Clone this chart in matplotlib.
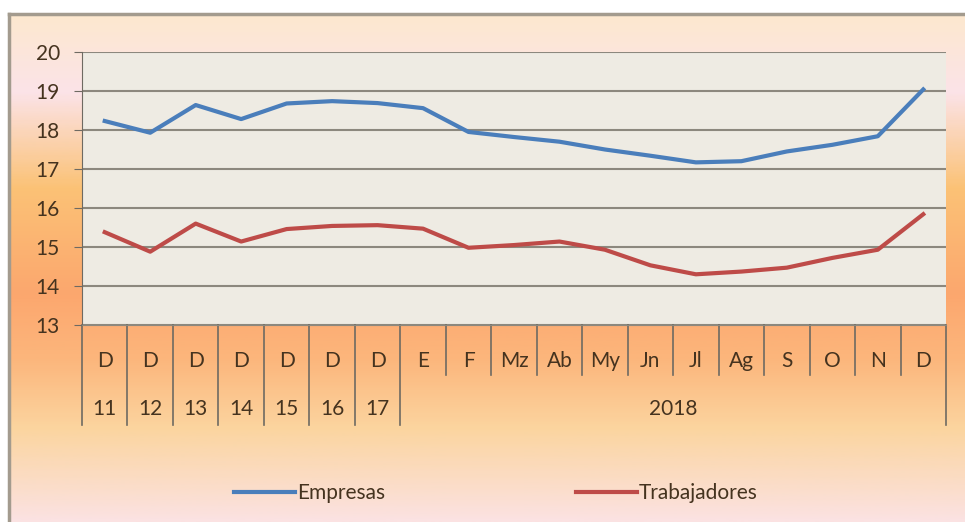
import numpy as np
import matplotlib
matplotlib.use('Agg')
import matplotlib.pyplot as plt
from matplotlib.colors import LinearSegmentedColormap

plt.rcParams['font.family'] = ['Lato', 'DejaVu Sans']

# datos
meses = ['D', 'D', 'D', 'D', 'D', 'D', 'D', 'E', 'F', 'Mz', 'Ab', 'My', 'Jn', 'Jl', 'Ag', 'S', 'O', 'N', 'D']
anios = ['11', '12', '13', '14', '15', '16', '17']
anio_grupo = '2018'
empresas = [18.23, 17.93, 18.64, 18.28, 18.68, 18.74, 18.69, 18.56, 17.95, 17.82, 17.7, 17.5, 17.34, 17.17, 17.2, 17.45, 17.62, 17.84, 19.04]
trabajadores = [15.38, 14.88, 15.6, 15.14, 15.46, 15.54, 15.56, 15.47, 14.98, 15.05, 15.14, 14.93, 14.53, 14.3, 14.37, 14.47, 14.72, 14.93, 15.84]

W, H = 965, 522
fig = plt.figure(figsize=(W / 100, H / 100), dpi=100)

# fondo degradado
bg = fig.add_axes([0, 0, 1, 1], zorder=-5)
stops = [(0.0, '#fde8cf'), (0.15, '#fbe3e8'), (0.34, '#fbc276'), (0.55, '#fca76e'),
         (0.68, '#fcb67c'), (0.82, '#fbd5a0'), (1.0, '#fbe2e2')]
cmap = LinearSegmentedColormap.from_list('fondo', stops)
grad = np.linspace(0, 1, 300).reshape(-1, 1)
bg.imshow(grad, aspect='auto', cmap=cmap, extent=[10, W, H, 15], origin='upper')
bg.set_xlim(0, W)
bg.set_ylim(H, 0)
bg.axis('off')
bg.plot([9, 9], [14, H], color='#a39b8e', lw=2.5)
bg.plot([9, W], [14, 14], color='#a39b8e', lw=2.5)

ax = fig.add_axes([82 / W, 1 - 325 / H, (946 - 82) / W, (325 - 52) / H])
ax.set_facecolor('#eeebe3')
x = np.arange(len(meses))
ax.plot(x, empresas, color='#4a7ebb', lw=3, label='Empresas', solid_joinstyle='round')
ax.plot(x, trabajadores, color='#be4b48', lw=3, label='Trabajadores', solid_joinstyle='round')

fs = 15
txt = '#45331f'
ax.set_xlim(-0.5, len(meses) - 0.5)
ax.set_ylim(13, 20)
ax.set_yticks(range(13, 21))
ax.yaxis.grid(True, color='#8c887e', lw=1.5)
ax.set_axisbelow(True)
for s in ['top', 'right']:
    ax.spines[s].set_visible(False)
ax.spines['left'].set_color('#6e6a62')
ax.spines['bottom'].set_color('#8c887e')
ax.tick_params(axis='y', length=6, pad=10, labelsize=fs, colors=txt, color='#6e6a62')
ax.set_xticks([])

tr = ax.get_xaxis_transform()
h = 273.0
r1, r2 = -50 / h, -100 / h
for i, m in enumerate(meses):
    ax.text(i, -36 / h, m, transform=tr, ha='center', va='center', fontsize=fs, color=txt)
for i, a in enumerate(anios):
    ax.text(i, -84 / h, a, transform=tr, ha='center', va='center', fontsize=fs, color=txt)
ax.text((len(anios) + len(meses) - 1) / 2, -84 / h, anio_grupo, transform=tr,
        ha='center', va='center', fontsize=fs, color=txt)
for i in range(len(meses) + 1):
    b = i - 0.5
    low = r2 if (i <= len(anios) or i == len(meses)) else r1
    ax.plot([b, b], [0, low], transform=tr, color='#6e6a62', lw=1.2, clip_on=False)

fig.legend(loc='center', bbox_to_anchor=(496 / W, 1 - 493 / H), ncol=2, frameon=False,
           handlelength=2.9, handletextpad=0.1, columnspacing=9.2, fontsize=fs,
           labelcolor=txt)

fig.savefig('out.png', dpi=100)
